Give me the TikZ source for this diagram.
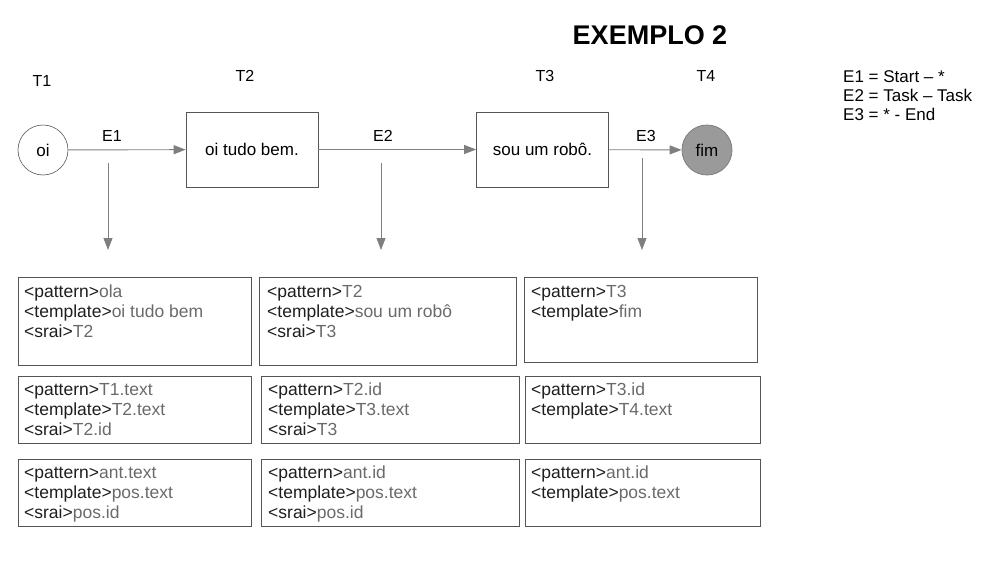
\documentclass[tikz,border=0pt]{standalone}
\usepackage{fontspec}
\setmainfont{Liberation Sans}
\usetikzlibrary{arrows.meta}
\definecolor{edgegray}{HTML}{7F7F7F}
\definecolor{framegray}{HTML}{555555}
\definecolor{valgray}{HTML}{6A6A6A}
\definecolor{tagcol}{HTML}{1E1E1E}
\definecolor{endfill}{HTML}{9A9A9A}
\newcommand{\tg}[1]{\textcolor{tagcol}{#1}}
\newcommand{\vl}[1]{\textcolor{valgray}{#1}}
\begin{document}
\begin{tikzpicture}[x=1pt,y=-1pt,
  lbl/.style={inner sep=0pt,anchor=base,font=\fontsize{16}{19}\selectfont,text=black},
  flow/.style={draw=edgegray,line width=0.9pt,-{Triangle[length=12pt,width=9pt]}},
  startnode/.style={circle,draw=framegray,line width=0.6pt,minimum size=50pt,inner sep=0pt,font=\fontsize{17}{20}\selectfont},
  endnode/.style={circle,draw=edgegray,fill=endfill,line width=0.8pt,minimum size=50pt,inner sep=0pt,font=\fontsize{17}{20}\selectfont},
  taskbox/.style={draw=framegray,line width=0.7pt,minimum width=132pt,minimum height=75pt,inner sep=0pt,font=\fontsize{17}{20}\selectfont},
  rulebox/.style={draw=framegray,line width=1pt,anchor=north west,inner sep=0pt},
  ruletext/.style={anchor=north west,inner sep=0pt,align=left,font=\fontsize{17.5}{20}\selectfont},
  legend/.style={anchor=north west,inner sep=0pt,align=left,font=\fontsize{17}{19}\selectfont}]
\useasboundingbox (0,0) rectangle (988,581);

% title
\node[inner sep=0pt,anchor=base,font=\fontsize{27}{30}\selectfont\bfseries] (title) at (650,44) {EXEMPLO 2};

% states
\node[lbl] (t1) at (42,86) {T1};
\node[lbl] (t2) at (245,81) {T2};
\node[lbl] (t3) at (545,81) {T3};
\node[lbl] (t4) at (706,81) {T4};

\node[startnode] (oi) at (43,150) {oi};
\node[taskbox] (task2) at (252,149.5) {oi tudo bem.};
\node[taskbox] (task3) at (542.5,149.5) {sou um robô.};
\node[endnode] (fim) at (707,150) {fim};

% transitions
\draw[flow] (oi) -- (task2);
\draw[flow] (task2) -- (task3);
\draw[flow] (task3) -- (fim);

\node[lbl] (e1) at (112,141) {E1};
\node[lbl] (e2) at (383,141) {E2};
\node[lbl] (e3) at (646,141) {E3};

% arrows from each transition to its rules
\coordinate (d1s) at (108,163);  \coordinate (d1e) at (108,250);
\coordinate (d2s) at (381,163);  \coordinate (d2e) at (381,250);
\coordinate (d3s) at (642,158);  \coordinate (d3e) at (642,250);
\draw[flow] (d1s) -- (d1e);
\draw[flow] (d2s) -- (d2e);
\draw[flow] (d3s) -- (d3e);

% legend
\node[legend] (leg) at (843,68.7) {\strut E1 = Start – *\\E2 = Task – Task\\E3 = * - End};

% rule boxes, row 1
\node[rulebox,minimum width=233pt,minimum height=88pt] (a1) at (18,277) {};
\node[rulebox,minimum width=257pt,minimum height=88pt] (a2) at (259,277) {};
\node[rulebox,minimum width=233pt,minimum height=85pt] (a3) at (524,277) {};
% row 2
\node[rulebox,minimum width=233pt,minimum height=67pt] (b1) at (18,376) {};
\node[rulebox,minimum width=258pt,minimum height=67pt] (b2) at (261,376) {};
\node[rulebox,minimum width=235pt,minimum height=67pt] (b3) at (525,376) {};
% row 3
\node[rulebox,minimum width=233pt,minimum height=67pt] (c1) at (18,459) {};
\node[rulebox,minimum width=258pt,minimum height=67pt] (c2) at (261,459) {};
\node[rulebox,minimum width=235pt,minimum height=67pt] (c3) at (525,459) {};

% rule texts
\node[ruletext] (a1t) at (24,283) {\strut\tg{<pattern>}\vl{ola}\\\tg{<template>}\vl{oi tudo bem}\\\tg{<srai>}\vl{T2}};
\node[ruletext] (a2t) at (267,283) {\strut\tg{<pattern>}\vl{T2}\\\tg{<template>}\vl{sou um robô}\\\tg{<srai>}\vl{T3}};
\node[ruletext] (a3t) at (531,283) {\strut\tg{<pattern>}\vl{T3}\\\tg{<template>}\vl{fim}};

\node[ruletext] (b1t) at (24,381) {\strut\tg{<pattern>}\vl{T1.text}\\\tg{<template>}\vl{T2.text}\\\tg{<srai>}\vl{T2.id}};
\node[ruletext] (b2t) at (268,381) {\strut\tg{<pattern>}\vl{T2.id}\\\tg{<template>}\vl{T3.text}\\\tg{<srai>}\vl{T3}};
\node[ruletext] (b3t) at (531,381) {\strut\tg{<pattern>}\vl{T3.id}\\\tg{<template>}\vl{T4.text}};

\node[ruletext] (c1t) at (24,464) {\strut\tg{<pattern>}\vl{ant.text}\\\tg{<template>}\vl{pos.text}\\\tg{<srai>}\vl{pos.id}};
\node[ruletext] (c2t) at (268,464) {\strut\tg{<pattern>}\vl{ant.id}\\\tg{<template>}\vl{pos.text}\\\tg{<srai>}\vl{pos.id}};
\node[ruletext] (c3t) at (531,464) {\strut\tg{<pattern>}\vl{ant.id}\\\tg{<template>}\vl{pos.text}};
\end{tikzpicture}
\end{document}
